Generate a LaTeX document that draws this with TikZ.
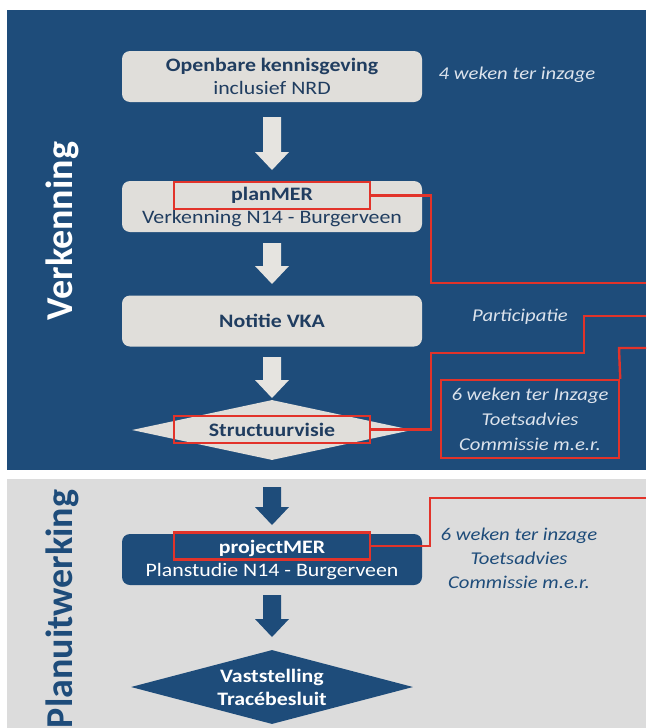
\documentclass[tikz,border=0pt]{standalone}
\usepackage{fontspec}
\setmainfont{Carlito}[FakeStretch=1.15]
\newfontfamily\vlabelfont{Carlito}
\usetikzlibrary{shapes.geometric}
\definecolor{panelblue}{HTML}{1E4C7A}
\definecolor{panelgrey}{HTML}{DCDCDC}
\definecolor{boxgrey}{HTML}{E0DEDA}
\definecolor{navytext}{HTML}{203D60}
\definecolor{redline}{HTML}{E2332A}
\definecolor{lighttext}{HTML}{DCE3EC}
\definecolor{arrowwhite}{HTML}{E6E4E0}
\newcommand\blockarrow[4]{%
  \fill[#1] ({#2-9},#3) -- ({#2+9},#3) -- ({#2+9},{#4-18}) -- ({#2+17},{#4-18})
    -- (#2,#4) -- ({#2-17},{#4-18}) -- ({#2-9},{#4-18}) -- cycle;}
\begin{document}
\begin{tikzpicture}[x=1pt,y=-1pt,
  lbox/.style={rectangle, rounded corners=8pt, fill=boxgrey, text=navytext,
    minimum width=300pt, minimum height=51pt, align=center, inner sep=0pt,
    font=\fontsize{19}{23}\selectfont},
  dbox/.style={lbox, fill=panelblue, text=white},
  ldiam/.style={diamond, fill=boxgrey, text=navytext, inner sep=0pt, align=center,
    font=\fontsize{19}{23}\selectfont\bfseries},
  note/.style={align=center, font=\fontsize{18}{25}\selectfont\itshape,
    text=lighttext, inner sep=0pt},
  redbox/.style={draw=redline, line width=2.4pt, minimum width=196pt,
    minimum height=27pt, inner sep=0pt},
  redlink/.style={draw=redline, line width=2.4pt},
  vlabel/.style={rotate=90, font=\vlabelfont\fontsize{38}{42}\selectfont\bfseries}
]
\useasboundingbox (0,0) rectangle (646,728);
\fill[white] (0,0) rectangle (646,728);
\fill[panelblue] (7,10) rectangle (646,470);
\fill[panelgrey] (7,479) rectangle (646,728);

% side labels
\node[vlabel, text=white] (lv) at (62,231) {Verkenning};
\node[vlabel, text=panelblue] (lp) at (62,609) {Planuitwerking};

% blue panel flow
\node[lbox] (b1) at (272,76.5) {\textbf{Openbare kennisgeving}\\inclusief NRD};
\node[lbox] (b2) at (272,206.5) {\textbf{planMER}\\Verkenning N14 - Burgerveen};
\node[lbox] (b3) at (272,321) {\textbf{Notitie VKA}};
\node[ldiam, minimum width=280pt, minimum height=60pt, aspect=4.67] (d1) at (272,430) {Structuurvisie};

\blockarrow{arrowwhite}{272}{117}{170}
\blockarrow{arrowwhite}{272}{243}{284}
\blockarrow{arrowwhite}{272}{357}{398}

\node[note] (n1) at (517,75) {4 weken ter inzage};
\node[note] (n2) at (520,317) {Participatie};
\node[note, draw=redline, line width=2.4pt, minimum width=178pt, minimum height=78pt]
  (n3) at (530,419) {6 weken ter Inzage\\Toetsadvies\\Commissie m.e.r.};

% red highlights
\node[redbox] (r1) at (272,195.5) {};
\node[redbox] (r2) at (272,429.5) {};
\coordinate (e1) at (646,283);
\coordinate (e2) at (646,316);
\coordinate (e3) at (646,348);
\draw[redlink] (r1.east) -- (431,195.5) -- (431,283) -- (e1);
\draw[redlink] (r2.east) -- (431,429.5) -- (431,353) -- (584,353) -- (584,316) -- (e2);
\draw[redlink] (n3.north east) -- (619,348) -- (e3);

% grey panel flow
\blockarrow{panelblue}{272}{487}{525}
\node[dbox] (b4) at (272,559.5) {\textbf{projectMER}\\Planstudie N14 - Burgerveen};
\blockarrow{panelblue}{272}{595}{637}
\node[ldiam, fill=panelblue, text=white, minimum width=282pt, minimum height=74pt, aspect=3.81]
  (d2) at (272,687) {Vaststelling\\Tracébesluit};
\node[note, text=panelblue, font=\fontsize{18}{24}\selectfont\itshape] (n4) at (519,558)
  {6 weken ter inzage\\Toetsadvies\\Commissie m.e.r.};
\node[redbox] (r3) at (272,546) {};
\coordinate (e4) at (646,498);
\draw[redlink] (r3.east) -- (430,546) -- (430,498) -- (e4);
\end{tikzpicture}
\end{document}
